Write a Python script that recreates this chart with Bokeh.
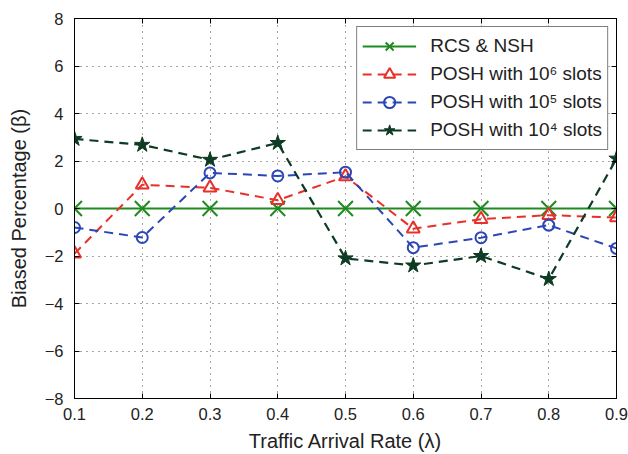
from bokeh.plotting import figure
from bokeh.models import LinearAxis, FixedTicker, Range1d, Legend, LegendItem
from bokeh.embed import file_html
from bokeh.resources import INLINE

x = [0.1, 0.2, 0.3, 0.4, 0.5, 0.6, 0.7, 0.8, 0.9]
rcs_nsh = [0, 0, 0, 0, 0, 0, 0, 0, 0]
posh_1e6 = [-1.9, 1.0, 0.87, 0.35, 1.35, -0.85, -0.45, -0.28, -0.38]
posh_1e5 = [-0.8, -1.22, 1.5, 1.37, 1.53, -1.65, -1.23, -0.7, -1.68]
posh_1e4 = [2.93, 2.68, 2.05, 2.76, -2.1, -2.4, -2.0, -2.97, 2.1]
x_ticks = [0.1, 0.2, 0.3, 0.4, 0.5, 0.6, 0.7, 0.8, 0.9]
y_ticks = [-8, -6, -4, -2, 0, 2, 4, 6, 8]
labels = ["RCS & NSH", "POSH with 10\u2076 slots", "POSH with 10\u2075 slots", "POSH with 10\u2074 slots"]

FONT = "Liberation Sans"
GREEN = "#1f8a1f"
RED = "#e8302a"
BLUE = "#2b46b5"
DKGREEN = "#0e3b23"
TXT = "#222222"
DASH = "9 6"

p = figure(width=628, height=454, output_backend="svg", toolbar_location=None,
           x_range=Range1d(0.1, 0.9), y_range=Range1d(-8, 8),
           min_border_left=74, min_border_right=12, min_border_top=18, min_border_bottom=54)
p.background_fill_color = "white"
p.border_fill_color = "white"
p.outline_line_color = "black"
p.outline_line_width = 1

for ax in (p.xaxis[0], p.yaxis[0]):
    ax.major_tick_in = 5
    ax.major_tick_out = 0
    ax.minor_tick_line_color = None
    ax.axis_line_color = "black"
    ax.major_tick_line_color = "black"
    ax.major_label_text_font = FONT
    ax.major_label_text_font_size = "16.5px"
    ax.major_label_text_color = TXT
    ax.axis_label_text_font = FONT
    ax.axis_label_text_font_size = "20px"
    ax.axis_label_text_font_style = "normal"
    ax.axis_label_text_color = TXT

p.xaxis[0].ticker = FixedTicker(ticks=x_ticks)
p.yaxis[0].ticker = FixedTicker(ticks=y_ticks)
p.xaxis[0].axis_label = "Traffic Arrival Rate (\u03bb)"
p.yaxis[0].axis_label = "Biased Percentage (\u03b2)"
p.xaxis[0].major_label_standoff = 9
p.yaxis[0].major_label_standoff = 11
p.xaxis[0].axis_label_standoff = 7
p.yaxis[0].axis_label_standoff = 12
p.yaxis[0].major_label_overrides = {v: str(v).replace("-", "\u2212") for v in y_ticks}

for loc, tk in (("above", x_ticks), ("right", y_ticks)):
    ax = LinearAxis(ticker=FixedTicker(ticks=tk), major_tick_in=5, major_tick_out=0,
                    minor_tick_line_color=None, major_label_text_font_size="1px",
                    major_label_text_color=None, major_label_overrides={v: "" for v in tk},
                    major_label_standoff=0, axis_line_color="black")
    p.add_layout(ax, loc)

p.xgrid.ticker = FixedTicker(ticks=x_ticks)
p.ygrid.ticker = FixedTicker(ticks=y_ticks)
for g in (p.xgrid[0], p.ygrid[0]):
    g.grid_line_color = "#222222"
    g.grid_line_dash = "1 5"
    g.grid_line_alpha = 0.8

items = []
r1 = p.line(x, rcs_nsh, line_color=GREEN, line_width=2)
m1 = p.scatter(x, rcs_nsh, marker="x", size=21, line_color=GREEN, line_width=2)
items.append(LegendItem(label=labels[0], renderers=[r1, m1]))

r2 = p.line(x, posh_1e6, line_color=RED, line_width=2, line_dash=DASH)
m2 = p.scatter(x, posh_1e6, marker="triangle", size=13, line_color=RED, fill_color=None, line_width=2)
items.append(LegendItem(label=labels[1], renderers=[r2, m2]))

r3 = p.line(x, posh_1e5, line_color=BLUE, line_width=2, line_dash=DASH)
m3 = p.scatter(x, posh_1e5, marker="circle", size=11, line_color=BLUE, fill_color=None, line_width=2)
items.append(LegendItem(label=labels[2], renderers=[r3, m3]))

r4 = p.line(x, posh_1e4, line_color=DKGREEN, line_width=2.2, line_dash=DASH)
m4 = p.scatter(x, posh_1e4, marker="star", size=16, line_color=DKGREEN, fill_color=DKGREEN, line_width=1)
items.append(LegendItem(label=labels[3], renderers=[r4, m4]))

legend = Legend(items=items, location="top_right", margin=8,
                label_text_font=FONT, label_text_font_size="19px", label_text_color=TXT,
                glyph_width=54, glyph_height=28, label_standoff=14, spacing=0,
                padding=5, border_line_color="black", border_line_width=1,
                background_fill_color="white", background_fill_alpha=1)
p.add_layout(legend, "center")

open("out.html", "w").write(file_html(p, INLINE))
